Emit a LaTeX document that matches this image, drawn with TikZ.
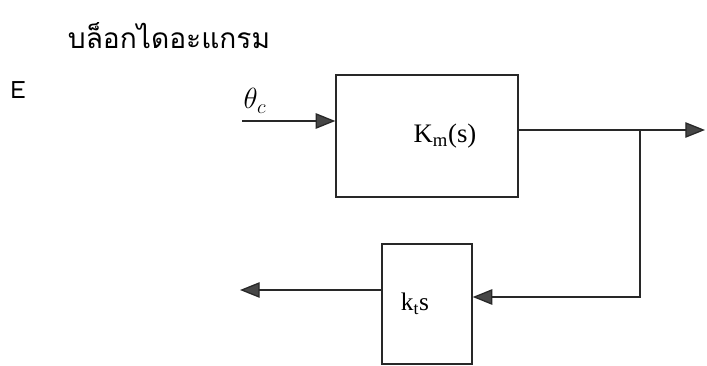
\documentclass[tikz,border=0pt]{standalone}
\usepackage{fontspec}
\setmainfont{Liberation Serif}
\newfontfamily\thaifont[Script=Thai]{Loma}
\usepackage{tikz}
\usetikzlibrary{arrows.meta, positioning, calc}
\definecolor{mydark}{RGB}{40,40,40}
\definecolor{myhead}{RGB}{70,70,70}
\tikzset{
  block/.style={rectangle, draw=mydark, fill=white, align=center,
    font=\fontsize{19}{21}\selectfont, line width=0.9pt, inner sep=0pt},
  arrow/.style={-{Triangle[length=14pt, width=11pt, fill=myhead]}, line width=0.9pt, color=mydark},
  line/.style={line width=0.9pt, color=mydark}
}
\begin{document}
\begin{tikzpicture}[x=0.025cm, y=-0.025cm]
  \useasboundingbox (0,0) rectangle (707,366);
  % heading
  \node[font=\thaifont\fontsize{20}{22}\selectfont] (title) at (169,36) {บล็อกไดอะแกรม};
  \node[font=\thaifont\fontsize{17}{19}\selectfont] (elabel) at (18,90) {E};
  % blocks
  \node[block, minimum width=4.55cm, minimum height=3.05cm] (km) at (427,136) {\hspace{0.9cm}K\textsubscript{m}(s)};
  \node[block, minimum width=2.25cm, minimum height=3.0cm, font=\fontsize{18}{20}\selectfont] (kt) at (427,304) {\hspace{-0.6cm}k\textsubscript{t}s};
  % input
  \coordinate (in) at (242,121);
  \node[font=\fontsize{21}{23}\selectfont] (theta) at (255,101) {$\theta_c$};
  \draw[arrow] (in) -- (in -| km.west);
  % output and feedback
  \coordinate (out) at (705,130);
  \coordinate (br) at (640,130);
  \coordinate (fb) at (640,297);
  \coordinate (fbout) at (240,290);
  \draw[arrow] (km.east |- out) -- (out);
  \draw[arrow] (br) -- (fb) -- (fb -| kt.east);
  \draw[arrow] (kt.west |- fbout) -- (fbout);
\end{tikzpicture}
\end{document}
